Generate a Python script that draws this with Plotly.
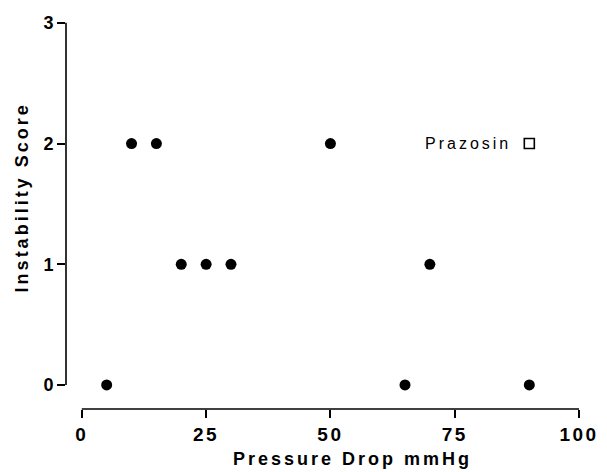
import plotly.graph_objects as go

# Data
pressure_drop = [5, 10, 15, 20, 25, 30, 50, 65, 70, 90]
instability = [0, 2, 2, 1, 1, 1, 2, 0, 1, 0]
prazosin_x = [90]
prazosin_y = [2]
x_ticks = [0, 25, 50, 75, 100]
y_ticks = [0, 1, 2, 3]

FONT = "Arial, Liberation Sans, Helvetica, sans-serif"

fig = go.Figure()
fig.add_trace(go.Scatter(
    x=pressure_drop, y=instability, mode="markers",
    marker=dict(symbol="circle", size=11, color="black"),
    showlegend=False,
))
fig.add_trace(go.Scatter(
    x=prazosin_x, y=prazosin_y, mode="markers",
    marker=dict(symbol="square-open", size=10, color="black", line=dict(width=1.6)),
    showlegend=False,
))

fig.add_annotation(x=prazosin_x[0], y=prazosin_y[0], text="Prazosin", showarrow=False,
                   xanchor="right", yanchor="middle", xshift=-28,
                   font=dict(family=FONT, size=16, color="black"))

# Axis lines (detached, as in the reference)
fig.add_shape(type="line", xref="x", yref="paper", x0=x_ticks[0], x1=x_ticks[-1], y0=0, y1=0,
              line=dict(color="black", width=1.6))
fig.add_shape(type="line", xref="paper", yref="y", x0=0, x1=0, y0=y_ticks[0], y1=y_ticks[-1],
              line=dict(color="black", width=1.6))

# Axis titles
fig.add_annotation(xref="x", yref="paper", x=54.5, y=0, yshift=-50, text="<b>Pressure Drop mmHg</b>",
                   showarrow=False, xanchor="center", yanchor="middle",
                   font=dict(family=FONT, size=18, color="black"))
fig.add_annotation(xref="paper", yref="y", x=0, y=1.55, xshift=-44, text="<b>Instability Score</b>",
                   showarrow=False, textangle=-90, xanchor="center", yanchor="middle",
                   font=dict(family=FONT, size=18, color="black"))

fig.update_xaxes(range=[-3.18, 101.0], tickvals=x_ticks, ticktext=[str(v) for v in x_ticks],
                 ticks="outside", ticklen=8, tickwidth=1.6, tickcolor="black",
                 showline=False, showgrid=False, zeroline=False,
                 tickfont=dict(family=FONT, size=19, color="black", weight="bold"))
fig.update_yaxes(range=[-0.199, 3.065], tickvals=y_ticks, ticktext=[str(v) for v in y_ticks],
                 ticks="outside", ticklen=8, tickwidth=1.6, tickcolor="black",
                 showline=False, showgrid=False, zeroline=False,
                 tickfont=dict(family=FONT, size=18, color="black", weight="bold"))

fig.update_layout(width=607, height=472, autosize=False,
                  margin=dict(l=66, r=17, t=15, b=63),
                  plot_bgcolor="white", paper_bgcolor="white")

post = """
document.body.style.margin = '0';
document.querySelectorAll('.xtick text').forEach(function(t){ t.style.letterSpacing = '2.5px'; });
document.querySelectorAll('.annotation-text').forEach(function(t){ t.style.letterSpacing = '3px'; });
"""

fig.write_html("out.html", post_script=post, config={"displayModeBar": False})
